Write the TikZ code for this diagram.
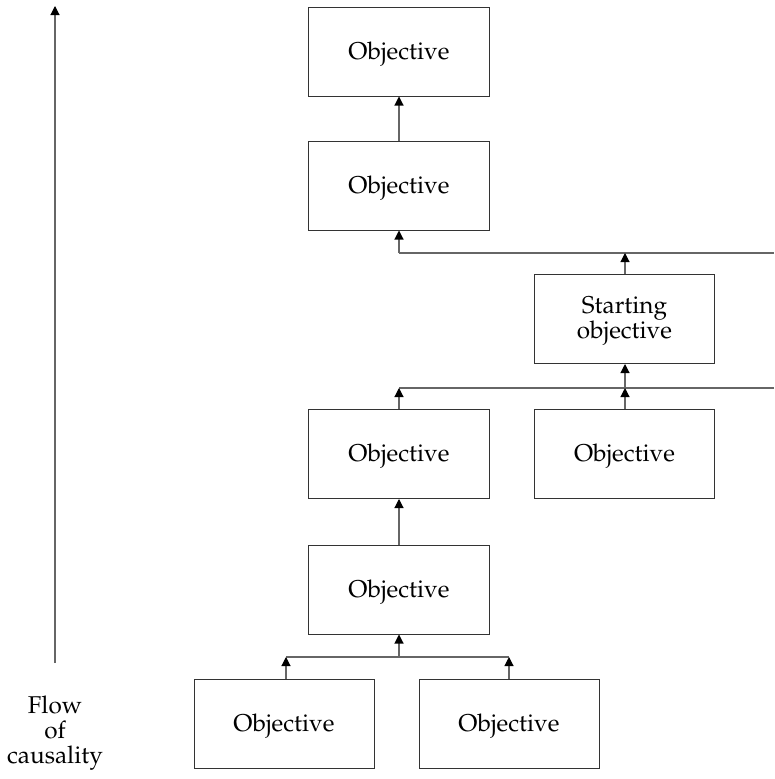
\documentclass[tikz,border=0pt]{standalone}
\usepackage[T1]{fontenc}
\usepackage{mathpazo}
\usetikzlibrary{arrows.meta}
\begin{document}
\begin{tikzpicture}[x=1pt,y=-1pt,
  box/.style={draw=black!80, line width=1pt, minimum width=181pt, minimum height=89pt, align=center, inner sep=0pt, text depth=2pt, font=\fontsize{24.3}{25}\selectfont},
  conn/.style={draw=black!60, line width=1.1pt},
  arr/.style={conn, -{Triangle[width=9pt,length=9pt,color=black]}},
  lbl/.style={font=\fontsize{24.3}{25}\selectfont, align=center}]
\useasboundingbox (0,0) rectangle (774,779);
\node[box] (o1) at (399,51.5) {Objective};
\node[box] (o2) at (399,185.5) {Objective};
\node[box, minimum width=180pt] (s) at (624.5,319) {Starting\\objective};
\node[box] (o3) at (399,454) {Objective};
\node[box, minimum width=180pt] (o4) at (624.5,454) {Objective};
\node[box] (o5) at (399,589.5) {Objective};
\node[box, minimum width=180pt] (o6) at (284,724) {Objective};
\node[box, minimum width=180pt] (o7) at (509,724) {Objective};
\coordinate (r1) at (774,253);
\coordinate (r2) at (774,388);
\coordinate (j1) at (399,253);
\coordinate (j1s) at (625,253);
\coordinate (j2) at (399,388);
\coordinate (j2s) at (625,388);
\coordinate (j3) at (399,657);
\coordinate (j3a) at (286,657);
\coordinate (j3b) at (509,657);
% top arrow
\draw[arr] (o2.north) -- (o1.south);
% line 1
\draw[conn] (r1) -- (j1);
\draw[arr] (j1) -- (o2.south);
\draw[arr] (s.north -| j1s) -- (j1s);
% line 2
\draw[conn] (r2) -- (j2);
\draw[arr] (j2s) -- (s.south -| j2s);
\draw[arr] (o3.north) -- (j2);
\draw[arr] (o4.north -| j2s) -- (j2s);
% o5 -> o3
\draw[arr] (o5.north) -- (o3.south);
% bottom line
\draw[conn] (j3a) -- (j3b);
\draw[arr] (j3) -- (o5.south);
\draw[arr] (o6.north -| j3a) -- (j3a);
\draw[arr] (o7.north -| j3b) -- (j3b);
% flow of causality
\coordinate (fb) at (55,663);
\coordinate (ft) at (55,6);
\draw[arr] (fb) -- (ft);
\node[lbl] (flow) at (55,733) {Flow\\of\\causality};
\end{tikzpicture}
\end{document}
